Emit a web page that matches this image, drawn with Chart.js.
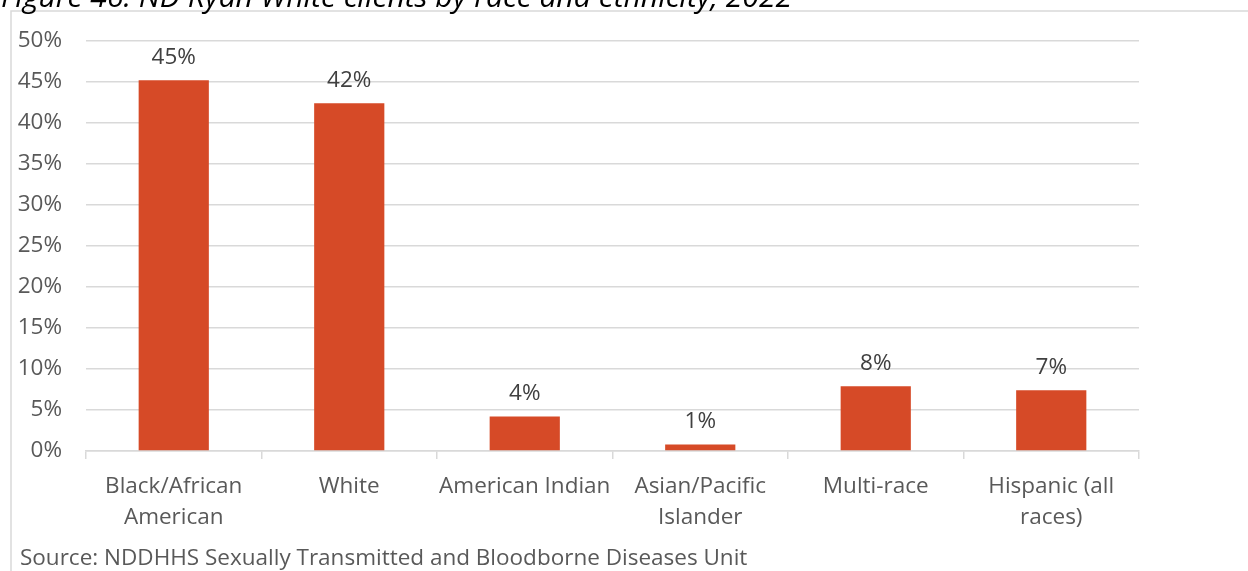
<!DOCTYPE html>
<html>
<head>
<meta charset="utf-8">
<script src="https://cdn.jsdelivr.net/npm/chart.js@4"></script>
<style>
	html, body { margin: 0; padding: 0; background: #fff; overflow: hidden; }
	#wrap { position: relative; width: 1248px; height: 571px; }
</style>
</head>
<body>
<div id="wrap"><canvas id="myChart" width="1248" height="571"></canvas></div>
<script>
var categories = [
	["Black/African", "American"],
	"White",
	"American Indian",
	["Asian/Pacific", "Islander"],
	"Multi-race",
	["Hispanic (all", "races)"],
];
var clientShare = [45.2, 42.4, 4.2, 0.8, 7.9, 7.4];
var yTicks = [0, 5, 10, 15, 20, 25, 30, 35, 40, 45, 50];

var titleText = "Figure 46: ND Ryan White clients by race and ethnicity, 2022";
var sourceText = "Source: NDDHHS Sexually Transmitted and Bloodborne Diseases Unit";

var FONT = "'Open Sans', 'Noto Sans', sans-serif";
var SIZE = 22.5;

// frame, title and source line
var framePlugin = {
	id: "frame",
	beforeDraw: function (chart) {
		var ctx = chart.ctx;
		ctx.save();
		ctx.strokeStyle = "#d9d9d9";
		ctx.lineWidth = 1.5;
		ctx.beginPath();
		ctx.moveTo(11, 571);
		ctx.lineTo(11, 11);
		ctx.lineTo(1248, 11);
		ctx.stroke();
		ctx.fillStyle = "#000";
		ctx.font = "italic 30px " + FONT;
		ctx.textBaseline = "alphabetic";
		ctx.fillText(titleText, 1, 7);
		ctx.fillStyle = "#595959";
		ctx.font = SIZE + "px " + FONT;
		ctx.textBaseline = "middle";
		ctx.fillText(sourceText, 20, 559);
		ctx.restore();
	},
};

// value labels above bars
var labelPlugin = {
	id: "barLabels",
	afterDatasetsDraw: function (chart) {
		var ctx = chart.ctx;
		var meta = chart.getDatasetMeta(0);
		ctx.save();
		ctx.fillStyle = "#404040";
		ctx.font = SIZE + "px " + FONT;
		ctx.textAlign = "center";
		ctx.textBaseline = "middle";
		meta.data.forEach(function (bar, i) {
			ctx.fillText(Math.round(clientShare[i]) + "%", bar.x, bar.y - 23);
		});
		ctx.restore();
	},
};

var ctx = document.getElementById("myChart").getContext("2d");
var myChart = new Chart(ctx, {
	type: "bar",
	data: {
		labels: categories,
		datasets: [
			{
				data: clientShare,
				backgroundColor: "#d64a27",
				borderWidth: 0,
				categoryPercentage: 1,
				barPercentage: 0.4,
			},
		],
	},
	options: {
		responsive: false,
		animation: false,
		layout: { padding: { left: 0, top: 41, right: 109, bottom: 0 } },
		plugins: {
			legend: { display: false },
			tooltip: { enabled: false },
		},
		scales: {
			y: {
				min: 0,
				max: 50,
				afterFit: function (scale) { scale.width = 86; },
				afterBuildTicks: function (scale) {
					scale.ticks = yTicks.map(function (v) { return { value: v }; });
				},
				ticks: {
					padding: 24,
					color: "#595959",
					font: { family: FONT, size: SIZE },
					callback: function (v) { return v + "%"; },
				},
				grid: { color: "#d9d9d9", lineWidth: 1.5, drawTicks: false },
				border: { display: false },
			},
			x: {
				afterFit: function (scale) { scale.height = 120; },
				ticks: {
					padding: 12,
					color: "#595959",
					maxRotation: 0,
					autoSkip: false,
					font: { family: FONT, size: SIZE, lineHeight: "31px" },
				},
				grid: { color: "#d9d9d9", lineWidth: 1.5, drawOnChartArea: false, tickLength: 8, offset: true },
				border: { color: "#d9d9d9", width: 1.5 },
			},
		},
	},
	plugins: [framePlugin, labelPlugin],
});
</script>
</body>
</html>
